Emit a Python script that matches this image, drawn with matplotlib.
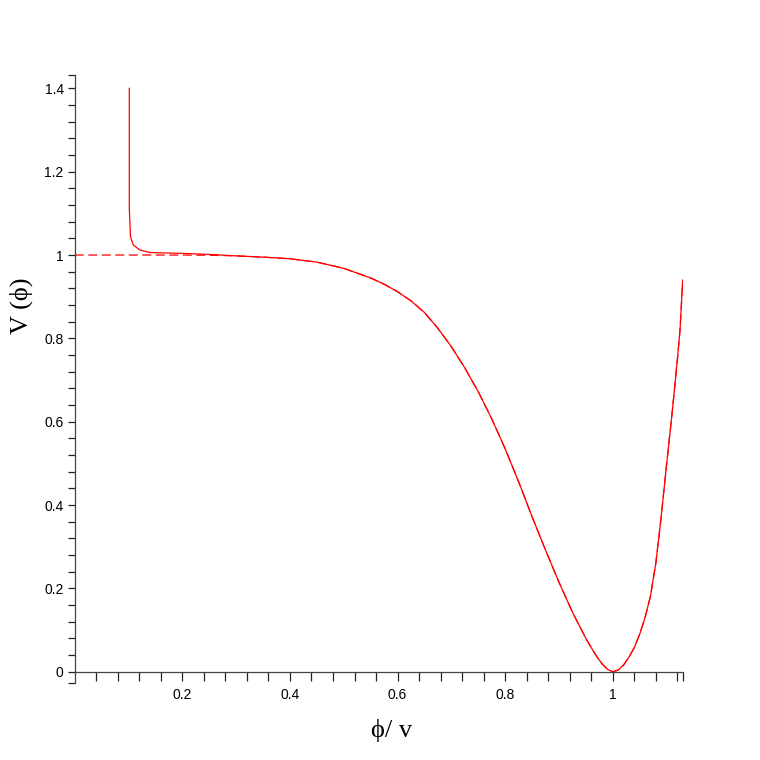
import matplotlib
matplotlib.use('Agg')
import matplotlib.pyplot as plt
import numpy as np
from matplotlib.ticker import FixedLocator, FuncFormatter

# potential (dashed curve, phi/v vs V)
phi = [0.00, 0.05, 0.10, 0.15, 0.20, 0.25, 0.30, 0.35, 0.40, 0.45,
       0.50, 0.55, 0.575, 0.60, 0.625, 0.65, 0.675, 0.70, 0.725, 0.75,
       0.775, 0.80, 0.825, 0.85, 0.875, 0.90, 0.925, 0.95, 0.96, 0.97,
       0.98, 0.99, 1.00, 1.01, 1.02, 1.03, 1.04, 1.05, 1.06, 1.07,
       1.08, 1.09, 1.10, 1.11, 1.12, 1.125, 1.13]
V = [1.000, 1.000, 1.000, 1.000, 1.000, 0.9995, 0.998, 0.995, 0.991, 0.983,
     0.968, 0.945, 0.930, 0.912, 0.890, 0.862, 0.824, 0.780, 0.729, 0.672,
     0.607, 0.535, 0.456, 0.372, 0.292, 0.215, 0.143, 0.080, 0.058, 0.037,
     0.019, 0.006, 0.000, 0.004, 0.016, 0.035, 0.058, 0.090, 0.130, 0.181,
     0.260, 0.372, 0.497, 0.617, 0.748, 0.820, 0.940]

# solid curve: blows up near phi ~ 0.1, then joins the dashed one
phi_s = [0.1014, 0.1014, 0.1035, 0.1088, 0.121, 0.14, 0.20, 0.25]
V_s = [1.40, 1.11, 1.044, 1.024, 1.012, 1.006, 1.004, 1.0015]

xmax = 1.13
ymin, ymax = -0.027, 1.432

fig = plt.figure(figsize=(7.6, 7.6), dpi=100)
ax = fig.add_axes([0.0984, 0.1013, 0.7999, 0.8])

# solid line: start part then the shared curve
phi_full = phi_s + [p for p in phi if p > phi_s[-1]]
V_full = V_s + [v for p, v in zip(phi, V) if p > phi_s[-1]]
ax.plot(phi_full, V_full, color='red', lw=0.9)
ax.plot(phi, V, color='red', lw=0.9, dashes=(7.2, 3.6))

ax.set_xlim(0, xmax)
ax.set_ylim(ymin, ymax)

for s in ['top', 'right']:
    ax.spines[s].set_visible(False)
ax.spines['bottom'].set_position(('data', 0))
ax.spines['bottom'].set_bounds(0, xmax)
for s in ['left', 'bottom']:
    ax.spines[s].set_color('#444444')
    ax.spines[s].set_linewidth(0.9)

xt = [0.2, 0.4, 0.6, 0.8, 1.0]
yt = [0, 0.2, 0.4, 0.6, 0.8, 1.0, 1.2, 1.4]
ax.set_xticks(xt)
ax.set_yticks(yt)
ax.xaxis.set_minor_locator(FixedLocator(list(np.arange(1, 29) * 0.04) + [xmax]))
ax.yaxis.set_minor_locator(FixedLocator(list(np.arange(0, 36) * 0.04) + [ymin, ymax]))


def fmt(v, pos):
    if abs(v - round(v)) < 1e-9:
        return '%d' % round(v)
    return '%.1f' % v


ax.xaxis.set_major_formatter(FuncFormatter(fmt))
ax.yaxis.set_major_formatter(FuncFormatter(fmt))

ax.tick_params(axis='x', which='both', direction='out', length=6.5, width=0.9,
               color='#222222', pad=5, labelsize=10)
ax.tick_params(axis='y', which='both', direction='out', length=5, width=0.9,
               color='#222222', pad=3, labelsize=10)
for lab in ax.get_xticklabels() + ax.get_yticklabels():
    lab.set_family(['Liberation Sans', 'DejaVu Sans'])

serif = ['Liberation Serif', 'DejaVu Serif']
fig.text(21 / 760, 1 - 306 / 760, 'V (ϕ)', rotation=90, ha='center', va='center',
         fontsize=19, family=serif)
fig.text(392 / 760, 1 - 730 / 760, 'ϕ/ v', ha='center', va='center',
         fontsize=19, family=serif)

fig.savefig('out.png', dpi=100)
